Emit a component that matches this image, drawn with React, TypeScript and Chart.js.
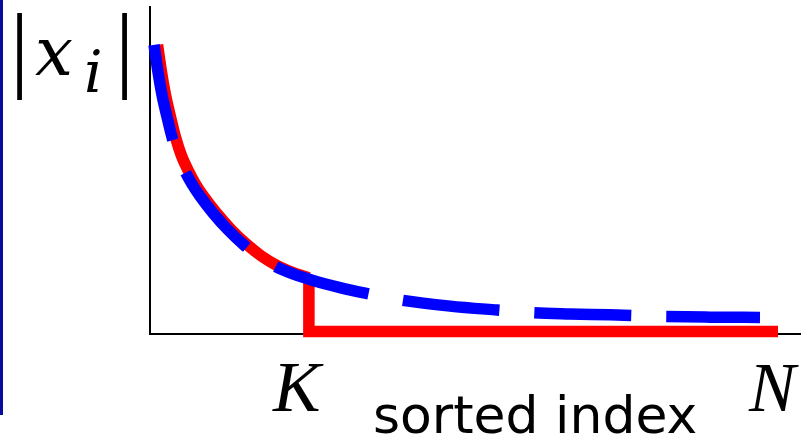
import React, { useEffect, useRef } from "react";
import { Chart, registerables } from "chart.js";

Chart.register(...registerables);

// power-law fit (blue dashed): sorted index -> magnitude
const fitIndex = [0.64, 1.27, 1.91, 2.71, 3.5, 4.46, 5.57, 6.69, 7.96, 10.03, 12.42, 14.81, 17.2, 19.75, 22.77, 25.96, 30.25, 34.24, 39.81, 47.77, 55.25, 60.83, 66.88, 73.25, 81.69, 89.17, 97.13];
const fitValue = [88.3, 80.0, 72.9, 66.1, 59.9, 54.1, 49.4, 45.4, 41.7, 36.5, 31.3, 26.9, 23.2, 20.2, 17.7, 15.7, 13.5, 11.8, 9.7, 7.8, 6.6, 5.8, 5.4, 5.1, 4.6, 4.4, 4.3];

// sorted coefficient magnitudes kept (red solid, up to K)
const coefIndex = [1.2, 1.83, 2.47, 3.27, 4.06, 5.02, 6.13, 7.25, 8.52, 10.59, 12.98, 15.37, 17.76, 20.31, 23.33, 25.3];
const coefValue = [88.3, 80.0, 72.9, 66.1, 59.9, 54.1, 49.4, 45.4, 41.7, 36.5, 31.3, 26.9, 23.2, 20.2, 17.7, 16.5];

// truncation to zero after K
const K = 25.3;
const N = 100;
const stepIndex = [K, K, N];
const stepValue = [16.5, 0, 0];

const labelY = "|x_i|";
const labelK = "K";
const labelN = "N";
const labelX = "sorted index";

function drawFit(
  ctx: CanvasRenderingContext2D,
  text: string,
  family: string,
  style: string,
  left: number,
  top: number,
  bottom: number
) {
  ctx.save();
  ctx.textBaseline = "alphabetic";
  ctx.textAlign = "left";
  ctx.font = `${style} 100px ${family}`;
  const m = ctx.measureText(text);
  const inkH = m.actualBoundingBoxAscent + m.actualBoundingBoxDescent;
  const size = (100 * (bottom - top)) / inkH;
  ctx.font = `${style} ${size}px ${family}`;
  const m2 = ctx.measureText(text);
  ctx.fillStyle = "#000";
  ctx.fillText(text, left + m2.actualBoundingBoxLeft, top + m2.actualBoundingBoxAscent);
  ctx.restore();
}

function drawFitWidth(
  ctx: CanvasRenderingContext2D,
  text: string,
  family: string,
  left: number,
  right: number,
  baseline: number
) {
  ctx.save();
  ctx.textBaseline = "alphabetic";
  ctx.textAlign = "left";
  ctx.font = `100px ${family}`;
  const m = ctx.measureText(text);
  const inkW = m.actualBoundingBoxLeft + m.actualBoundingBoxRight;
  const size = (100 * (right - left)) / inkW;
  ctx.font = `${size}px ${family}`;
  const m2 = ctx.measureText(text);
  ctx.fillStyle = "#000";
  ctx.fillText(text, left + m2.actualBoundingBoxLeft, baseline);
  ctx.restore();
}

const textPlugin = {
  id: "textLabels",
  afterDraw(chart: any) {
    const ctx = chart.ctx as CanvasRenderingContext2D;
    // left edge strip from the cropped source figure
    ctx.save();
    ctx.fillStyle = "#0a0a9e";
    ctx.fillRect(0, 0, 3, 415);
    ctx.restore();

    const serif = "'Liberation Serif', serif";
    const dserif = "'DejaVu Serif', serif";
    const bar = labelY.charAt(0);
    drawFit(ctx, bar, serif, "normal", 17, 13, 100);
    drawFit(ctx, labelY.charAt(1), dserif, "italic", 35, 40, 75);
    drawFit(ctx, labelY.charAt(3), dserif, "italic", 86, 49, 92);
    drawFit(ctx, bar, serif, "normal", 122, 13, 100);

    drawFit(ctx, labelK, serif, "italic", 272, 364, 411);
    drawFit(ctx, labelN, serif, "italic", 748, 365, 411);
    drawFitWidth(ctx, labelX, "'DejaVu Sans', sans-serif", 375, 695, 433);
  },
};

export default function App() {
  const ref = useRef<HTMLCanvasElement | null>(null);

  useEffect(() => {
    if (!ref.current) return;
    const chart = new Chart(ref.current, {
      type: "line",
      data: {
        datasets: [
          {
            label: "fit",
            data: fitIndex.map((x, i) => ({ x, y: fitValue[i] })),
            borderColor: "#0000ff",
            borderWidth: 11.5,
            borderDash: [97, 35],
            borderCapStyle: "butt",
            cubicInterpolationMode: "monotone",
            pointRadius: 0,
            fill: false,
            clip: false,
          },
          {
            label: "coef",
            data: coefIndex.map((x, i) => ({ x, y: coefValue[i] })),
            borderColor: "#ff0000",
            borderWidth: 11.5,
            borderCapStyle: "butt",
            cubicInterpolationMode: "monotone",
            pointRadius: 0,
            fill: false,
            clip: false,
          },
          {
            label: "step",
            data: stepIndex.map((x, i) => ({ x, y: stepValue[i] })),
            borderColor: "#ff0000",
            borderWidth: 11.5,
            borderCapStyle: "butt",
            borderJoinStyle: "miter",
            tension: 0,
            pointRadius: 0,
            fill: false,
            clip: false,
          },
        ],
      },
      options: {
        animation: false,
        responsive: false,
        devicePixelRatio: 1,
        layout: { padding: { left: 150, right: 1, top: 7, bottom: 100 } },
        plugins: { legend: { display: false }, tooltip: { enabled: false } },
        scales: {
          x: {
            type: "linear",
            min: 0,
            max: 103.5,
            grid: { display: false, drawTicks: false, tickLength: 0 },
            ticks: { display: false },
            border: { display: true, color: "#000", width: 2 },
          },
          y: {
            type: "linear",
            min: -0.8,
            max: 100,
            grid: { display: false, drawTicks: false, tickLength: 0 },
            ticks: { display: false },
            border: { display: true, color: "#000", width: 2 },
          },
        },
      },
      plugins: [textPlugin],
    });
    return () => chart.destroy();
  }, []);

  return (
    <div style={{ position: "fixed", left: 0, top: 0, width: 801, height: 434, background: "#fff" }}>
      <canvas ref={ref} width={801} height={434} style={{ width: 801, height: 434, display: "block" }} />
    </div>
  );
}
